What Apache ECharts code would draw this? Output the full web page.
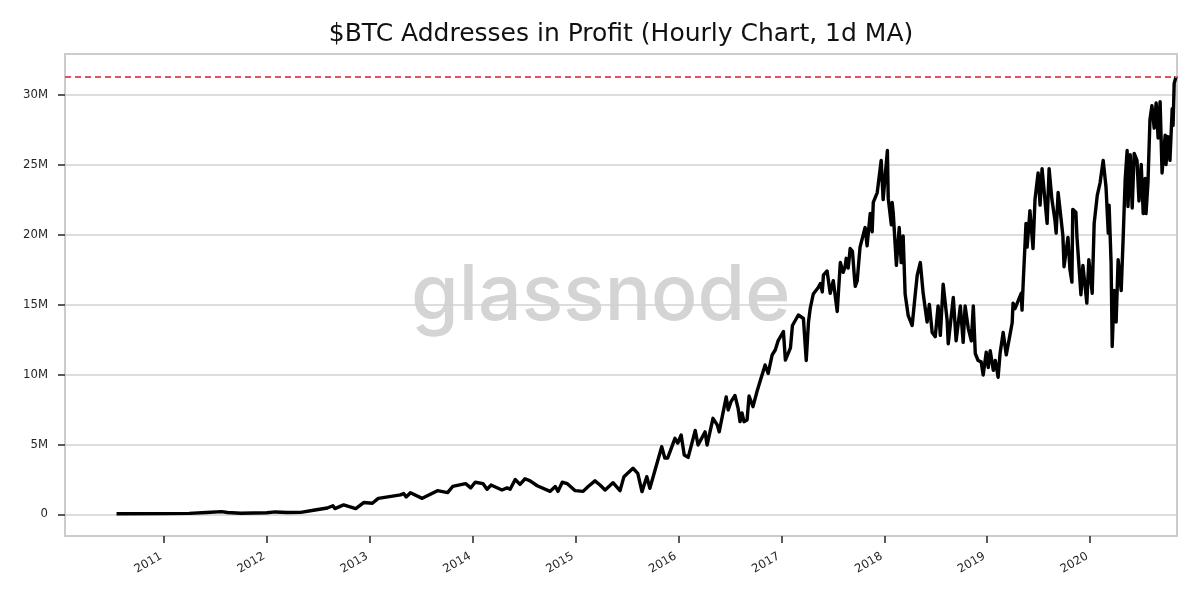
<!DOCTYPE html>
<html>
<head>
<meta charset="utf-8">
<title>$BTC Addresses in Profit</title>
<script src="https://cdn.jsdelivr.net/npm/echarts@6/dist/echarts.min.js"></script>
<style>
html, body { margin: 0; padding: 0; background: #fff; }
#chart { width: 1200px; height: 600px; }
</style>
</head>
<body>
<div id="chart"></div>
<script type="text/javascript">
var chartTitle = '$BTC Addresses in Profit (Hourly Chart, 1d MA)';
var watermark = 'glassnode';
var yearTicks = [2011, 2012, 2013, 2014, 2015, 2016, 2017, 2018, 2019, 2020];
var valueTicks = [0, 5, 10, 15, 20, 25, 30];
var athValue = 31.3;

var dates = [
	'2010-07-17', '2011-01-01', '2011-04-01', '2011-06-01', '2011-07-25', '2011-08-15', '2011-10-01',
	'2012-01-01', '2012-02-01', '2012-03-15', '2012-05-01', '2012-06-15', '2012-08-03', '2012-08-23', '2012-08-30', '2012-09-30', '2012-11-12', '2012-12-10',
	'2013-01-10', '2013-01-31', '2013-04-20', '2013-05-01', '2013-05-10', '2013-05-25', '2013-07-06', '2013-08-29', '2013-10-04', '2013-10-22', '2013-12-07', '2013-12-25',
	'2014-01-10', '2014-02-07', '2014-02-21', '2014-03-07', '2014-04-15', '2014-05-03', '2014-05-14', '2014-06-01', '2014-06-18', '2014-07-06', '2014-07-24', '2014-08-18', '2014-10-03', '2014-10-21', '2014-10-31', '2014-11-15', '2014-12-03', '2014-12-31',
	'2015-01-28', '2015-02-15', '2015-03-11', '2015-03-29', '2015-04-16', '2015-05-14', '2015-06-08', '2015-06-22', '2015-07-24', '2015-08-10', '2015-08-25', '2015-09-11', '2015-09-22', '2015-11-03', '2015-11-14', '2015-11-24', '2015-12-20', '2015-12-30',
	'2016-01-11', '2016-01-22', '2016-02-05', '2016-03-01', '2016-03-11', '2016-04-05', '2016-04-12', '2016-05-03', '2016-05-18', '2016-05-25', '2016-06-19', '2016-06-26', '2016-07-06', '2016-07-20', '2016-07-31', '2016-08-07', '2016-08-14', '2016-08-21', '2016-09-01', '2016-09-08', '2016-09-22', '2016-10-06', '2016-10-17', '2016-11-04', '2016-11-15', '2016-11-29', '2016-12-10', '2016-12-20',
	'2017-01-08', '2017-01-15', '2017-02-02', '2017-02-09', '2017-03-02', '2017-03-20', '2017-03-30', '2017-04-07', '2017-04-13', '2017-04-24', '2017-05-11', '2017-05-19', '2017-05-26', '2017-05-30', '2017-06-12', '2017-06-23', '2017-07-04', '2017-07-18', '2017-07-29', '2017-08-08', '2017-08-15', '2017-08-19', '2017-08-26', '2017-09-02', '2017-09-10', '2017-09-17', '2017-09-20', '2017-09-27', '2017-10-04', '2017-10-07', '2017-10-25', '2017-11-01', '2017-11-12', '2017-11-19', '2017-11-23', '2017-12-07', '2017-12-21', '2017-12-28',
	'2018-01-12', '2018-01-15', '2018-01-26', '2018-01-29', '2018-02-02', '2018-02-13', '2018-02-23', '2018-03-02', '2018-03-09', '2018-03-16', '2018-03-27', '2018-04-10', '2018-04-21', '2018-04-28', '2018-05-09', '2018-05-19', '2018-06-02', '2018-06-10', '2018-06-20', '2018-07-01', '2018-07-11', '2018-07-19', '2018-07-29', '2018-08-12', '2018-08-16', '2018-09-03', '2018-09-13', '2018-09-28', '2018-10-08', '2018-10-15', '2018-10-26', '2018-11-06', '2018-11-13', '2018-11-20', '2018-11-30', '2018-12-11', '2018-12-18', '2018-12-29',
	'2019-01-05', '2019-01-12', '2019-01-23', '2019-01-30', '2019-02-05', '2019-02-09', '2019-02-16', '2019-02-27', '2019-03-10', '2019-03-31', '2019-04-03', '2019-04-10', '2019-04-17', '2019-05-02', '2019-05-05', '2019-05-09', '2019-05-19', '2019-05-23', '2019-06-02', '2019-06-13', '2019-06-20', '2019-07-01', '2019-07-08', '2019-07-15', '2019-08-02', '2019-08-09', '2019-08-19', '2019-08-30', '2019-09-03', '2019-09-10', '2019-09-20', '2019-09-27', '2019-10-01', '2019-10-15', '2019-10-22', '2019-10-29', '2019-11-01', '2019-11-12', '2019-11-16', '2019-11-30', '2019-12-07', '2019-12-21', '2019-12-28',
	'2020-01-09', '2020-01-16', '2020-01-27', '2020-02-06', '2020-02-17', '2020-02-27', '2020-03-06', '2020-03-09', '2020-03-16', '2020-03-20', '2020-03-27', '2020-04-03', '2020-04-10', '2020-04-21', '2020-04-28', '2020-05-05', '2020-05-12', '2020-05-15', '2020-05-23', '2020-05-30', '2020-06-06', '2020-06-16', '2020-06-23', '2020-07-01', '2020-07-08', '2020-07-15', '2020-07-18', '2020-07-25', '2020-08-01', '2020-08-08', '2020-08-16', '2020-08-23', '2020-08-30', '2020-09-06', '2020-09-13', '2020-09-24', '2020-09-27', '2020-10-04', '2020-10-11', '2020-10-19', '2020-10-22', '2020-10-26', '2020-11-02'
];

// millions of addresses, same order as dates
var addresses = [
	0.05, 0.06, 0.08, 0.14, 0.2, 0.14, 0.09,
	0.12, 0.18, 0.14, 0.15, 0.3, 0.46, 0.62, 0.42, 0.68, 0.42, 0.85,
	0.8, 1.15, 1.4, 1.5, 1.25, 1.55, 1.15, 1.7, 1.56, 2.0, 2.2, 1.9,
	2.3, 2.2, 1.8, 2.1, 1.75, 1.9, 1.8, 2.5, 2.15, 2.55, 2.4, 2.05, 1.65, 2.0, 1.65, 2.3, 2.2, 1.7,
	1.65, 2.0, 2.4, 2.1, 1.75, 2.27, 1.7, 2.7, 3.3, 2.94, 1.63, 2.7, 1.87, 4.84, 4.03, 4.03, 5.44, 5.1,
	5.68, 4.25, 4.08, 6.0, 4.96, 5.9, 4.96, 6.87, 6.4, 5.9, 8.4, 7.46, 8.06, 8.5, 7.6, 6.63, 7.25, 6.63, 6.75, 8.46, 7.7, 8.77, 9.5, 10.68, 10.08, 11.4, 11.75, 12.4,
	13.07, 11.03, 11.9, 13.5, 14.25, 14.0, 11.0, 13.75, 14.7, 15.75, 16.2, 16.5, 15.9, 17.1, 17.4, 15.8, 16.7, 14.5, 18.0, 17.3, 17.7, 18.3, 17.6, 19.0, 18.8, 16.95, 16.3, 16.7, 18.4, 19.1, 20.5, 19.2, 21.5, 20.2, 22.3, 23.0, 25.3, 22.5,
	26.0, 22.6, 20.7, 22.3, 21.5, 17.8, 20.5, 18.0, 19.9, 15.75, 14.2, 13.5, 15.75, 17.1, 18.0, 15.8, 13.75, 15.0, 13.0, 12.7, 14.9, 12.8, 16.45, 13.9, 12.2, 15.5, 12.4, 14.9, 12.3, 14.9, 13.3, 12.4, 14.9, 11.5, 11.0, 10.9, 9.96, 11.6,
	10.5, 11.7, 10.3, 11.0, 10.3, 9.8, 11.5, 13.0, 11.4, 13.7, 15.1, 14.7, 14.7, 15.8, 14.6, 16.5, 20.8, 19.1, 21.7, 19.0, 22.5, 24.4, 22.1, 24.7, 20.8, 24.7, 22.5, 21.0, 20.1, 23.0, 21.2, 19.9, 17.7, 19.8, 17.5, 16.6, 21.8, 21.6, 19.8, 15.7, 17.8, 15.1, 18.2,
	15.8, 20.8, 22.8, 23.7, 25.3, 23.4, 20.1, 22.1, 18.0, 12.0, 16.0, 13.75, 18.2, 16.0, 19.8, 23.9, 26.0, 22.0, 25.7, 21.9, 25.8, 25.3, 22.4, 25.0, 21.5, 24.0, 21.5, 23.7, 28.2, 29.2, 27.6, 29.4, 26.9, 29.5, 24.4, 27.1, 25.0, 27.0, 25.3, 29.0, 27.8, 30.8, 31.3
];

// time axis breaks on customValues, so x is a value axis in UTC ms
var linePoints = dates.map(function (d, i) {
	return [Date.parse(d), addresses[i]];
});
var yearTickTimes = yearTicks.map(function (y) {
	return Date.UTC(y, 0, 1);
});

var dom = document.getElementById('chart');
var myChart = echarts.init(dom, null, { renderer: 'canvas' });

var option = {
	animation: false,
	backgroundColor: '#fff',
	textStyle: { fontFamily: 'DejaVu Sans' },
	title: {
		text: chartTitle,
		left: 616,
		top: 17,
		textAlign: 'center',
		textStyle: { fontSize: 25, fontWeight: 'normal', color: '#111', fontFamily: 'DejaVu Sans' }
	},
	grid: {
		left: 65,
		right: 23,
		top: 54,
		bottom: 64,
		show: true,
		borderColor: '#ccc',
		borderWidth: 2
	},
	graphic: [{
		type: 'text',
		z: -1,
		left: 411,
		top: 258,
		style: {
			text: watermark,
			fontFamily: 'Inter',
			fontWeight: 500,
			fontSize: 77,
			fill: '#d4d4d4'
		}
	}],
	xAxis: {
		type: 'value',
		min: Date.parse('2010-01-15'),
		max: Date.parse('2020-11-05'),
		axisLine: { show: false, onZero: false },
		axisTick: {
			show: true,
			length: 7,
			lineStyle: { color: '#262626', width: 1.5 },
			customValues: yearTickTimes
		},
		axisLabel: {
			rotate: 30,
			fontSize: 11.7,
			color: '#262626',
			margin: 18,
			padding: [0, 3, 0, 0],
			customValues: yearTickTimes,
			formatter: function (v) { return String(new Date(v).getUTCFullYear()); }
		},
		splitLine: { show: false }
	},
	yAxis: {
		type: 'value',
		min: -1.54,
		max: 32.9,
		axisLine: { show: false, onZero: false },
		axisTick: {
			show: true,
			length: 7,
			lineStyle: { color: '#262626', width: 1.5 },
			customValues: valueTicks
		},
		axisLabel: {
			fontSize: 11.7,
			color: '#262626',
			margin: 17,
			customValues: valueTicks,
			formatter: function (v) { return v === 0 ? '0' : v + 'M'; }
		},
		splitLine: { show: true, lineStyle: { color: '#d2d2d2', width: 1.5 } }
	},
	series: [{
		name: 'Addresses in Profit',
		type: 'line',
		data: linePoints,
		showSymbol: false,
		lineStyle: { color: '#000', width: 3.4, join: 'round' },
		markLine: {
			silent: true,
			symbol: 'none',
			label: { show: false },
			lineStyle: { color: '#de5560', type: [6, 4], width: 1.8 },
			data: [{ yAxis: athValue }]
		}
	}]
};

myChart.setOption(option, true);
</script>
</body>
</html>
